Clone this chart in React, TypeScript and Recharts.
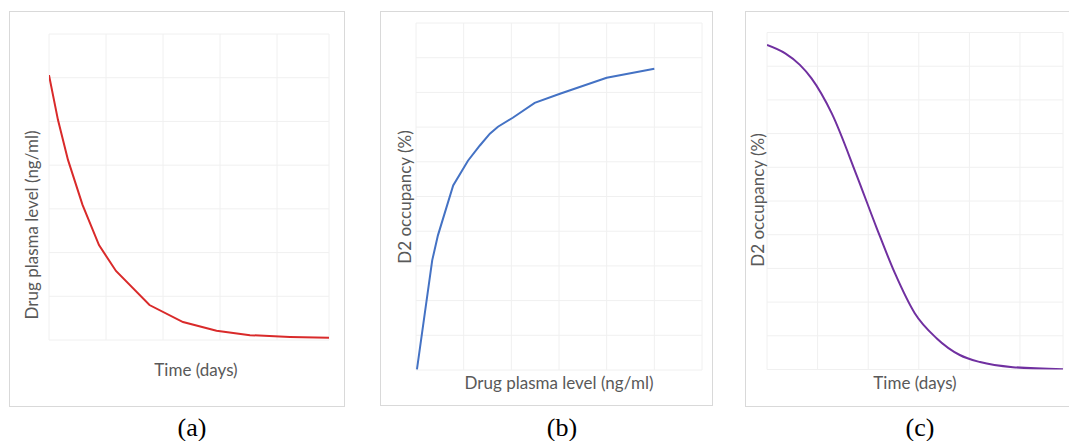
import React from 'react';
import { LineChart, Line, XAxis, YAxis, CartesianGrid, Label } from 'recharts';

// Panel (a): drug plasma level over time
const plasmaTime = [0, 0.158, 0.333, 0.588, 0.877, 1.175, 1.763, 2.351, 2.939, 3.526, 4.228, 4.912];
const plasmaLevel = [6.06, 5.03, 4.12, 3.09, 2.17, 1.58, 0.8, 0.41, 0.21, 0.11, 0.07, 0.05];

// Panel (b): D2 occupancy vs plasma level
const occPlasma = [0.02, 0.34, 0.46, 0.78, 1.09, 1.34, 1.55, 1.72, 2.03, 2.49, 3.02, 4.0, 5.0];
const occValue = [0.02, 3.16, 3.88, 5.32, 6.03, 6.47, 6.81, 7.01, 7.27, 7.7, 7.96, 8.42, 8.68];

// Panel (c): D2 occupancy over time
const occTime = [0, 0.36, 0.65, 0.88, 1.28, 1.77, 2.17, 2.53, 2.92, 3.35, 3.81, 4.21, 4.86, 5.85];
const occOverTime = [9.63, 9.38, 9.04, 8.64, 7.6, 5.77, 4.19, 2.85, 1.67, 0.93, 0.43, 0.22, 0.07, 0.01];

const ticksA_x = [0, 1, 2, 3, 4];
const ticksA_y = [0, 1, 2, 3, 4, 5, 6, 7];
const ticksB_x = [0, 1, 2, 3, 4, 5, 6];
const ticksB_y = [0, 1, 2, 3, 4, 5, 6, 7, 8, 9, 10];
const ticksC_x = [0, 1, 2, 3, 4, 5];
const ticksC_y = [0, 1, 2, 3, 4, 5, 6, 7, 8, 9, 10];

const dataA = plasmaTime.map((x, i) => ({ x, y: plasmaLevel[i] }));
const dataB = occPlasma.map((x, i) => ({ x, y: occValue[i] }));
const dataC = occTime.map((x, i) => ({ x, y: occOverTime[i] }));

const labelStyle = { fill: '#595959', fontSize: 17, fontFamily: 'Lato' };
const GRID = '#f0f0f0';
const BORDER = '#d9d9d9';

const NoTick = () => <g />;

type PanelProps = {
  left: number; top: number; width: number; height: number;
  borderWidth: number; borderHeight: number;
  marginTop: number; marginRight: number; yW: number; xH: number;
  data: { x: number; y: number }[];
  xDomain: [number, number]; yDomain: [number, number];
  xTicks: number[]; yTicks: number[];
  color: string; lineType: 'linear' | 'monotone';
  xLabel: string; yLabel: string;
  xdx: number; xdy: number; ydx: number; ydy: number;
};

function Panel(p: PanelProps) {
  return (
    <>
      <div
        style={{
          position: 'absolute', left: p.left, top: p.top, width: p.borderWidth, height: p.borderHeight,
          border: `1px solid ${BORDER}`, boxSizing: 'border-box',
        }}
      />
      <div style={{ position: 'absolute', left: p.left, top: p.top }}>
        <LineChart
          width={p.width}
          height={p.height}
          data={p.data}
          margin={{ top: p.marginTop, right: p.marginRight, bottom: 0, left: 0 }}
        >
          <CartesianGrid stroke={GRID} strokeWidth={1} />
          <XAxis
            dataKey="x" type="number" domain={p.xDomain} ticks={p.xTicks} allowDataOverflow
            tick={NoTick} tickLine={false} axisLine={false} height={p.xH} interval={0}
          >
            <Label value={p.xLabel} position="center" dx={p.xdx} dy={p.xdy} style={labelStyle} />
          </XAxis>
          <YAxis
            type="number" domain={p.yDomain} ticks={p.yTicks} allowDataOverflow
            tick={NoTick} tickLine={false} axisLine={false} width={p.yW} interval={0}
          >
            <Label value={p.yLabel} position="center" angle={-90} dx={p.ydx} dy={p.ydy} style={labelStyle} />
          </YAxis>
          <Line
            dataKey="y" type={p.lineType} stroke={p.color} strokeWidth={2}
            dot={false} activeDot={false} isAnimationActive={false}
          />
        </LineChart>
      </div>
    </>
  );
}

const captionStyle: React.CSSProperties = {
  position: 'absolute', top: 413, width: 60, textAlign: 'center',
  fontFamily: '"Liberation Serif", "Times New Roman", serif', fontSize: 26, color: '#000', lineHeight: '30px',
};

export default function App() {
  return (
    <div style={{ position: 'fixed', left: 0, top: 0, width: 1069, height: 441, overflow: 'hidden', background: '#fff' }}>
      <Panel
        left={9} top={11} width={336} height={396} borderWidth={336} borderHeight={396}
        marginTop={23} marginRight={16} yW={40} xH={67}
        data={dataA} xDomain={[0, 4.912]} yDomain={[0, 7]} xTicks={ticksA_x} yTicks={ticksA_y}
        color="#d92a2a" lineType="linear"
        xLabel="Time (days)" yLabel="Drug plasma level (ng/ml)"
        xdx={7} xdy={-3.5} ydx={2.5} ydy={38}
      />
      <Panel
        left={380} top={11} width={333} height={395} borderWidth={333} borderHeight={395}
        marginTop={12} marginRight={11} yW={36} xH={36}
        data={dataB} xDomain={[0, 6]} yDomain={[0, 10]} xTicks={ticksB_x} yTicks={ticksB_y}
        color="#4472c4" lineType="linear"
        xLabel="Drug plasma level (ng/ml)" yLabel="D2 occupancy (%)"
        xdx={0} xdy={-5} ydx={7} ydy={0.5}
      />
      <Panel
        left={745} top={11} width={330} height={395} borderWidth={340} borderHeight={396}
        marginTop={21.5} marginRight={12} yW={22} xH={36.5}
        data={dataC} xDomain={[0, 5.85]} yDomain={[0, 10]} xTicks={ticksC_x} yTicks={ticksC_y}
        color="#7030a0" lineType="monotone"
        xLabel="Time (days)" yLabel="D2 occupancy (%)"
        xdx={0} xdy={-4.75} ydx={2} ydy={-1}
      />
      <div style={{ ...captionStyle, left: 162 }}>(a)</div>
      <div style={{ ...captionStyle, left: 532 }}>(b)</div>
      <div style={{ ...captionStyle, left: 890 }}>(c)</div>
    </div>
  );
}
